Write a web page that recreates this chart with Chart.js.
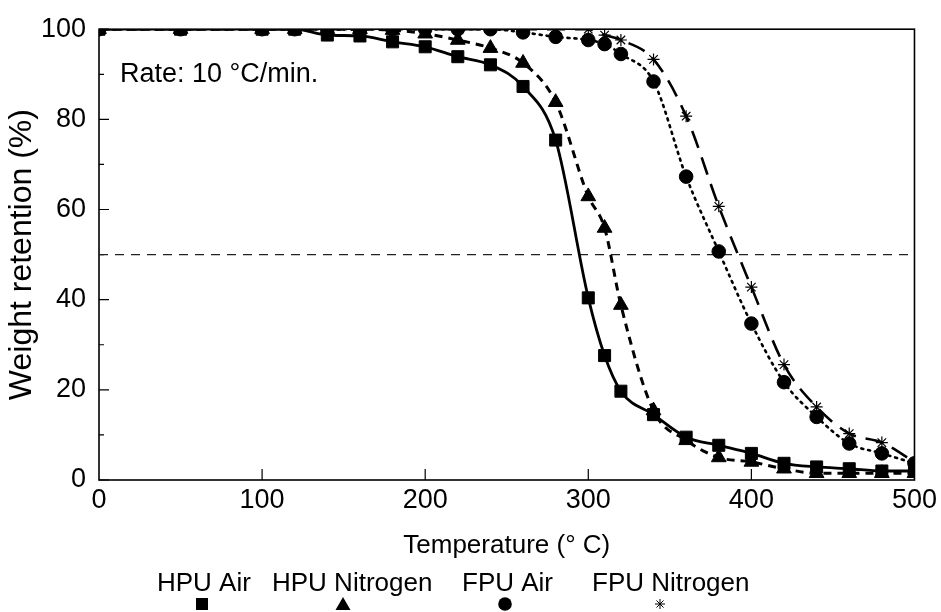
<!DOCTYPE html>
<html><head><meta charset="utf-8">
<script src="https://cdn.jsdelivr.net/npm/chart.js@4/dist/chart.umd.min.js"></script>
<style>html,body{margin:0;padding:0;background:#fff;} #wrap{width:941px;height:612px;position:relative;}</style>
</head><body><div id="wrap"><canvas id="c" width="941" height="612"></canvas></div>
<script>
// ---- data ----
const temps   = [0,50,100,120,140,160,180,200,220,240,260,280,300,310,320,340,360,380,400,420,440,460,480,500];
const hpuAir  = [100,100,100,100,98.7,98.5,97.2,96.1,93.9,92.1,87.3,75.4,40.4,27.6,19.7,14.5,9.5,7.7,5.9,3.7,2.9,2.5,2.0,2.0];
const hpuN2   = [100,100,100,100,100,100,99.8,99.0,97.6,95.8,92.5,83.8,62.9,55.9,38.8,15.4,8.8,5.0,4.0,2.5,1.5,1.5,1.5,1.5];
const fpuAir  = [100,100,100,100,100,100,100,100,100,100,99.3,98.3,97.6,96.7,94.5,88.4,67.3,50.7,34.7,21.7,14.0,8.1,5.9,3.7];
const fpuN2   = [100,100,100,100,100,100,100,100,100,100,100,100,100,98.7,97.6,93.3,80.7,60.7,42.8,25.6,16.2,10.3,8.3,4.0];
const seriesNames = ['HPU Air','HPU Nitrogen','FPU Air','FPU Nitrogen'];
const halfTemps = [0,500];
const halfLine  = [50,50];
const xTicks = [0,100,200,300,400,500];
const yTicks = [0,20,40,60,80,100];
const annotation = 'Rate: 10 \u00B0C/min.';
const xTitle = 'Temperature (\u00B0 C)';
const yTitle = 'Weight retention (%)';

const FONT = '"Liberation Sans", Arial, sans-serif';
const pts = arr => temps.map((t,i)=>({x:t,y:arr[i]}));

const styles = [
  {pointStyle:'rect', pointRadius:8.5, borderDash:[], borderWidth:2.8},
  {pointStyle:'triangle', pointRadius:8.5, borderDash:[8,6], borderWidth:3},
  {pointStyle:'circle', pointRadius:6.8, borderDash:[2,5], borderWidth:2.6},
  {pointStyle:'star', pointRadius:6, borderDash:[18,10], borderWidth:2.6}
];
const seriesData = [hpuAir,hpuN2,fpuAir,fpuN2];

const datasets = seriesData.map((arr,i)=>({
  label: seriesNames[i],
  data: pts(arr),
  borderColor:'#000',
  backgroundColor:'#000',
  pointBackgroundColor:'#000',
  pointBorderColor:'#000',
  pointBorderWidth: i===3 ? 1.2 : 1,
  pointStyle: styles[i].pointStyle,
  pointRadius: styles[i].pointRadius,
  borderDash: styles[i].borderDash,
  borderWidth: styles[i].borderWidth,
  borderCapStyle: i===2 ? 'round' : 'butt',
  cubicInterpolationMode:'monotone',
  fill:false
}));
datasets.push({
  label:'50%',
  data: halfTemps.map((t,i)=>({x:t,y:halfLine[i]})),
  borderColor:'#222',
  borderWidth:1.3,
  borderDash:[9,7],
  pointRadius:0,
  fill:false
});

const legendLayout = [
  {textX:157, markX:202},
  {textX:272, markX:343},
  {textX:462, markX:505},
  {textX:592, markX:660}
];

const decor = {
  id:'decor',
  beforeDatasetsDraw(chart){
    const {ctx, chartArea:a, scales:{x,y}} = chart;
    ctx.save();
    ctx.strokeStyle='#000';
    ctx.lineWidth=1.6;
    ctx.strokeRect(a.left, a.top, a.right-a.left, a.bottom-a.top);
    ctx.lineWidth=1.2;
    ctx.beginPath();
    for(let v=0; v<=100; v+=10){
      const py = y.getPixelForValue(v);
      const len = (v%20===0)?10:5;
      ctx.moveTo(a.left, py); ctx.lineTo(a.left+len, py);
    }
    for(let v=100; v<500; v+=100){
      const px = x.getPixelForValue(v);
      ctx.moveTo(px, a.bottom); ctx.lineTo(px, a.bottom-11);
    }
    ctx.stroke();
    ctx.restore();
  },
  afterDraw(chart){
    const {ctx} = chart;
    ctx.save();
    ctx.fillStyle='#000';
    ctx.textBaseline='middle';
    ctx.textAlign='left';
    ctx.font = '27px '+FONT;
    ctx.fillText(annotation, 120, 75);
    ctx.font = '26px '+FONT;
    seriesNames.forEach((name,i)=>{
      const L = legendLayout[i];
      ctx.fillStyle='#000';
      ctx.fillText(name, L.textX, 584);
      const mx = L.markX, my = 604, s = styles[i].pointStyle;
      ctx.beginPath();
      if(s==='rect'){ ctx.fillRect(mx-6, my-6, 12, 12); }
      else if(s==='triangle'){ ctx.moveTo(mx, my-7); ctx.lineTo(mx+7.5, my+6); ctx.lineTo(mx-7.5, my+6); ctx.closePath(); ctx.fill(); }
      else if(s==='circle'){ ctx.arc(mx, my, 6.8, 0, Math.PI*2); ctx.fill(); }
      else { ctx.lineWidth=1; ctx.strokeStyle='#000';
        for(let k=0;k<4;k++){ const an=k*Math.PI/4; ctx.moveTo(mx-5*Math.cos(an), my-5*Math.sin(an)); ctx.lineTo(mx+5*Math.cos(an), my+5*Math.sin(an)); }
        ctx.stroke(); }
    });
    ctx.restore();
  }
};

new Chart(document.getElementById('c').getContext('2d'), {
  type:'line',
  data:{datasets},
  options:{
    responsive:false,
    animation:false,
    events:[],
    layout:{padding:{left:0,right:26,top:24,bottom:0}},
    plugins:{legend:{display:false}, tooltip:{enabled:false}},
    scales:{
      x:{
        type:'linear', min:0, max:500,
        afterFit(s){ s.height = 132; },
        afterBuildTicks(s){ s.ticks = xTicks.map(v=>({value:v})); },
        border:{display:false},
        grid:{display:false, drawTicks:false},
        ticks:{font:{size:27, family:FONT}, color:'#000', padding:4, maxRotation:0, autoSkip:false},
        title:{display:true, text:xTitle, font:{size:26, family:FONT}, color:'#000', padding:{top:0,bottom:51}}
      },
      y:{
        type:'linear', min:0, max:100,
        afterFit(s){ s.width = 99; },
        afterBuildTicks(s){ s.ticks = yTicks.map(v=>({value:v})); },
        border:{display:false},
        grid:{display:false, drawTicks:false},
        ticks:{font:{size:27, family:FONT}, color:'#000', padding:13, autoSkip:false},
        title:{display:true, text:yTitle, font:{size:32, family:FONT}, color:'#000', padding:{top:3,bottom:0}}
      }
    }
  },
  plugins:[decor]
});
</script></body></html>
